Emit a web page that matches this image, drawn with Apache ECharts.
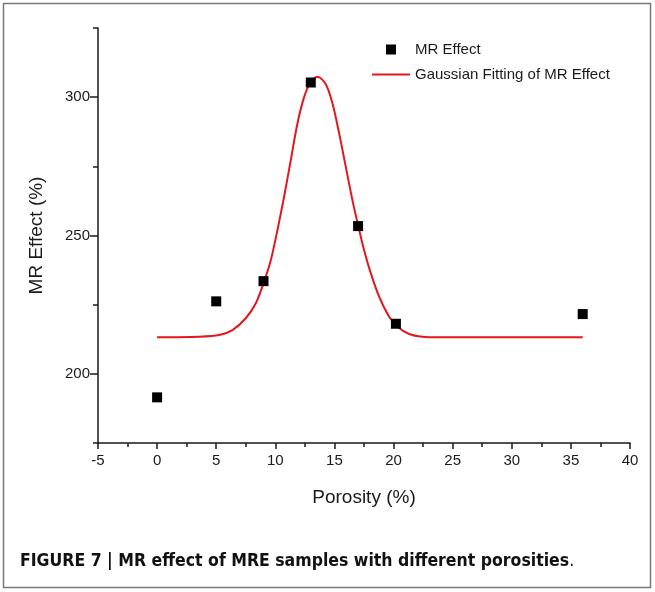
<!DOCTYPE html>
<html lang="en">
<head>
    <meta charset="UTF-8">
    <script src="https://cdn.jsdelivr.net/npm/echarts@6/dist/echarts.min.js"></script>
    <style>
        html, body { margin: 0; padding: 0; background: #fff; }
        #chart { width: 655px; height: 592px; }
    </style>
</head>
<body>
<div id="chart"></div>
<script type="text/javascript">
    // measured points (porosity %, MR effect %)
    var porosity = [0, 5, 9, 13, 17, 20.2, 36];
    var mrEffect = [191.5, 226.2, 233.5, 305.3, 253.4, 218.1, 221.6];

    // fitted curve
    var fitX = [0, 3.55, 5.25, 6.37, 7.5, 8.35, 9.05, 9.62, 10.18, 10.74, 11.31, 11.87, 12.44, 13, 13.56,
        14.27, 14.83, 15.4, 15.96, 16.52, 17.03, 17.51, 18.08, 18.78, 19.63, 20.33, 21.32, 22.45, 23.86, 36];
    var fitY = [213.2, 213.4, 214, 215.8, 220.1, 225.5, 233.3, 241.1, 252, 264, 277.3, 290.5, 300.1, 305.6, 307.4,
        304.7, 297.8, 286.9, 274.8, 262.8, 253.2, 244.7, 236.3, 227.9, 220.6, 217, 214.4, 213.4, 213.2, 213.2];

    var yMajorTicks = [200, 250, 300];
    var yMinorTicks = [175, 225, 275, 325];

    var chart = echarts.init(document.getElementById('chart'));

    var font = "'Liberation Sans', Arial, sans-serif";
    var narrow = "'Liberation Sans Narrow', 'DejaVu Sans Condensed', sans-serif";
    var ink = '#1a1a1a';

    var option = {
        animation: false,
        backgroundColor: '#fff',
        grid: { left: 98, top: 28, width: 532, height: 415 },
        legend: {
            orient: 'vertical',
            left: 367,
            top: 37,
            itemWidth: 38,
            itemHeight: 10,
            itemGap: 10,
            textStyle: { fontFamily: font, fontSize: 15, color: ink },
            data: [
                { name: 'MR Effect', icon: 'path://M0,0L10,0L10,10L0,10Z' },
                { name: 'Gaussian Fitting of MR Effect', icon: 'path://M0,0L40,0L40,2L0,2Z' }
            ]
        },
        xAxis: {
            type: 'value',
            min: -5,
            max: 40,
            interval: 5,
            name: 'Porosity (%)',
            nameLocation: 'middle',
            nameGap: 45,
            nameTextStyle: { fontFamily: font, fontSize: 19, color: ink },
            axisLine: { onZero: false, lineStyle: { color: ink, width: 1.5 } },
            axisTick: { length: 6, lineStyle: { color: ink, width: 1.5 } },
            minorTick: { show: true, splitNumber: 2, length: 4, lineStyle: { color: ink, width: 1.5 } },
            axisLabel: { fontFamily: font, fontSize: 15, color: ink, margin: 10 },
            splitLine: { show: false }
        },
        yAxis: [
            {
                type: 'value',
                min: 175,
                max: 325,
                name: 'MR Effect (%)',
                nameLocation: 'middle',
                nameGap: 52,
                nameTextStyle: { fontFamily: font, fontSize: 19, color: ink },
                axisLine: { show: true, onZero: false, lineStyle: { color: ink, width: 1.5 } },
                axisTick: { customValues: yMajorTicks, length: 8, lineStyle: { color: ink, width: 1.5 } },
                axisLabel: { customValues: yMajorTicks, fontFamily: font, fontSize: 15, color: ink, margin: 8 },
                splitLine: { show: false }
            },
            {
                type: 'value',
                min: 175,
                max: 325,
                position: 'left',
                axisLine: { show: false, onZero: false },
                axisTick: { customValues: yMinorTicks, length: 5, lineStyle: { color: ink, width: 1.5 } },
                axisLabel: { show: false },
                splitLine: { show: false }
            }
        ],
        series: [
            {
                name: 'Gaussian Fitting of MR Effect',
                type: 'line',
                smooth: 0.3,
                symbol: 'none',
                z: 2,
                lineStyle: { color: '#e3171d', width: 2 },
                itemStyle: { color: '#e3171d' },
                data: fitX.map(function (x, i) { return [x, fitY[i]]; })
            },
            {
                name: 'MR Effect',
                type: 'scatter',
                symbol: 'rect',
                symbolSize: 10,
                z: 3,
                itemStyle: { color: '#000', opacity: 1 },
                data: porosity.map(function (x, i) { return [x, mrEffect[i]]; })
            }
        ],
        graphic: [
            {
                type: 'rect',
                shape: { x: 3.5, y: 3.5, width: 647, height: 584 },
                style: { fill: 'none', stroke: '#777', lineWidth: 1.5 },
                silent: true
            },
            {
                type: 'text',
                left: 20,
                top: 552,
                style: {
                    text: '{b|FIGURE 7 | MR effect of MRE samples with different porosities}{n|.}',
                    rich: {
                        b: { fontFamily: narrow, fontWeight: 'bold', fontSize: 17.5, fill: '#111' },
                        n: { fontFamily: narrow, fontSize: 17.5, fill: '#111' }
                    }
                }
            }
        ]
    };

    chart.setOption(option);
</script>
</body>
</html>
